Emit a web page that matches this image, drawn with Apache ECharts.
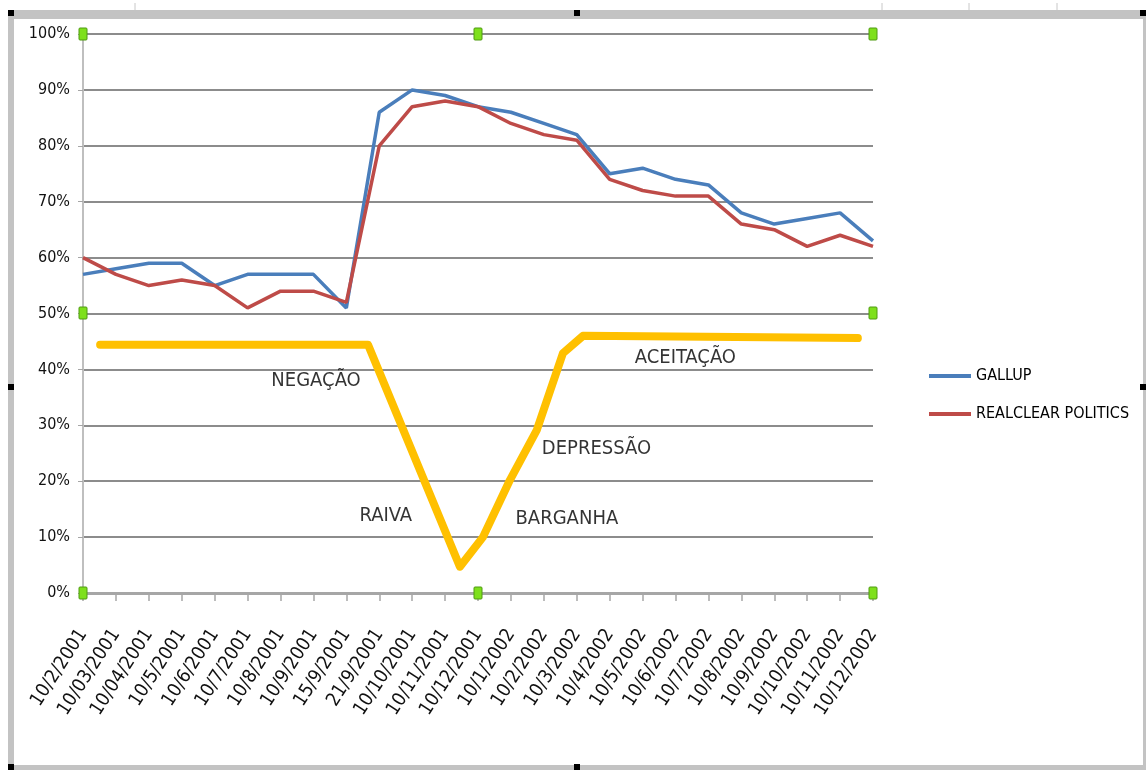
<!DOCTYPE html>
<html>
<head>
<meta charset="utf-8">
<script src="https://cdn.jsdelivr.net/npm/echarts@6/dist/echarts.min.js"></script>
<style>
  html, body { margin: 0; padding: 0; background: #fff; }
  #chart { width: 1146px; height: 770px; }
</style>
</head>
<body>
<div id="chart"></div>
<script>
// datas
const dates = ['10/2/2001', '10/03/2001', '10/04/2001', '10/5/2001', '10/6/2001', '10/7/2001', '10/8/2001',
  '10/9/2001', '15/9/2001', '21/9/2001', '10/10/2001', '10/11/2001', '10/12/2001', '10/1/2002', '10/2/2002',
  '10/3/2002', '10/4/2002', '10/5/2002', '10/6/2002', '10/7/2002', '10/8/2002', '10/9/2002', '10/10/2002',
  '10/11/2002', '10/12/2002'];
const gallup = [57, 58, 59, 59, 55, 57, 57, 57, 51, 86, 90, 89, 87, 86, 84, 82, 75, 76, 74, 73, 68, 66, 67, 68, 63];
const realclear = [60, 57, 55, 56, 55, 51, 54, 54, 52, 80, 87, 88, 87, 84, 82, 81, 74, 72, 71, 71, 66, 65, 62, 64, 62];
const yTicks = [0, 10, 20, 30, 40, 50, 60, 70, 80, 90, 100];

// curva amarela desenhada a mao (x em indice de categoria, y em %)
const griefCurve = [[0.52, 44.4], [8.66, 44.4], [11.45, 4.7], [12.15, 10], [12.97, 20.2], [13.79, 29.2],
  [14.58, 42.9], [15.19, 46.0], [23.54, 45.6]];
const stageNames = ['NEGAÇÃO', 'RAIVA', 'BARGANHA', 'DEPRESSÃO', 'ACEITAÇÃO'];
const stagePos = [[7.08, 37.9], [9.2, 13.9], [14.7, 13.2], [15.6, 25.8], [18.3, 42.0]];

const font = '"DejaVu Sans Condensed", "Liberation Sans Narrow", sans-serif';
const chart = echarts.init(document.getElementById('chart'));

const handle = (x, y) => ({
  type: 'rect', shape: { x: x - 4, y: y - 6, width: 8, height: 12, r: 1 },
  style: { fill: '#7ee01c', stroke: '#4f9a10', lineWidth: 1 }, z: 100
});
const blk = (x, y) => ({ type: 'rect', shape: { x: x - 3, y: y - 3, width: 6, height: 6 }, style: { fill: '#000' }, z: 101 });

chart.setOption({
  backgroundColor: '#fff',
  animation: false,
  textStyle: { fontFamily: font },
  grid: { left: 83, top: 34, right: 273, bottom: 177, containLabel: false },
  legend: {
    orient: 'vertical', left: 924, top: 363, itemGap: 22,
    itemWidth: 42, itemHeight: 4, icon: 'rect',
    data: ['GALLUP', 'REALCLEAR POLITICS'],
    textStyle: { fontFamily: font, fontSize: 16, color: '#000' }
  },
  xAxis: [{
    type: 'category', data: dates, boundaryGap: false,
    axisLine: { lineStyle: { color: '#a6a6a6', width: 3 } },
    axisTick: { show: true, length: 8, lineStyle: { color: '#a6a6a6', width: 1.5 } },
    axisLabel: { rotate: 57, fontSize: 19, color: '#111', fontFamily: font, margin: 38, interval: 0 }
  }, {
    type: 'value', min: 0, max: 24, show: false
  }],
  yAxis: {
    type: 'value', min: 0, max: 100, interval: 10,
    axisLine: { show: true, lineStyle: { color: '#bfbfbf', width: 2 } },
    axisTick: { show: true, length: 5, lineStyle: { color: '#a6a6a6' } },
    axisLabel: { formatter: v => yTicks.includes(v) ? v + '%' : '', fontSize: 16, color: '#111', fontFamily: font, margin: 13 },
    splitLine: { lineStyle: { color: '#8c8c8c', width: 2 } }
  },
  series: [{
    name: 'GALLUP', type: 'line', data: gallup, showSymbol: false,
    lineStyle: { color: '#4a7ebb', width: 3.5 }, itemStyle: { color: '#4a7ebb' }, z: 3
  }, {
    name: 'REALCLEAR POLITICS', type: 'line', data: realclear, showSymbol: false,
    lineStyle: { color: '#be4b48', width: 3.5 }, itemStyle: { color: '#be4b48' }, z: 4
  }, {
    name: 'curva', type: 'line', xAxisIndex: 1, data: griefCurve, showSymbol: false,
    lineStyle: { color: '#ffc000', width: 8, cap: 'round', join: 'round' }, z: 5
  }, {
    name: 'fases', type: 'scatter', xAxisIndex: 1, symbolSize: 0,
    data: stagePos.map((p, i) => ({ value: p, name: stageNames[i] })),
    label: {
      show: true, position: 'inside', formatter: p => p.name, fontSize: 20,
      color: '#000', textBorderWidth: 0, fontFamily: font
    },
    z: 6
  }],
  graphic: [
    // moldura cinza
    { type: 'rect', shape: { x: 8, y: 10, width: 1138, height: 9 }, style: { fill: '#c3c3c3' }, z: 90 },
    { type: 'rect', shape: { x: 8, y: 10, width: 6, height: 760 }, style: { fill: '#c3c3c3' }, z: 90 },
    { type: 'rect', shape: { x: 8, y: 765, width: 1138, height: 5 }, style: { fill: '#c3c3c3' }, z: 90 },
    { type: 'rect', shape: { x: 1143, y: 10, width: 3, height: 760 }, style: { fill: '#c3c3c3' }, z: 90 },
    { type: 'line', shape: { x1: 135, y1: 3, x2: 135, y2: 10 }, style: { stroke: '#c8c8c8', lineWidth: 1 } },
    { type: 'line', shape: { x1: 882, y1: 3, x2: 882, y2: 10 }, style: { stroke: '#c8c8c8', lineWidth: 1 } },
    { type: 'line', shape: { x1: 969, y1: 3, x2: 969, y2: 10 }, style: { stroke: '#c8c8c8', lineWidth: 1 } },
    { type: 'line', shape: { x1: 1057, y1: 3, x2: 1057, y2: 10 }, style: { stroke: '#c8c8c8', lineWidth: 1 } },
    blk(11, 13), blk(577, 13), blk(1143, 13), blk(11, 387), blk(1143, 387), blk(577, 767), blk(11, 767),
    // alcas verdes de selecao
    handle(83, 34), handle(478, 34), handle(873, 34),
    handle(83, 313), handle(873, 313),
    handle(83, 593), handle(478, 593), handle(873, 593)
  ]
});
</script>
</body>
</html>
